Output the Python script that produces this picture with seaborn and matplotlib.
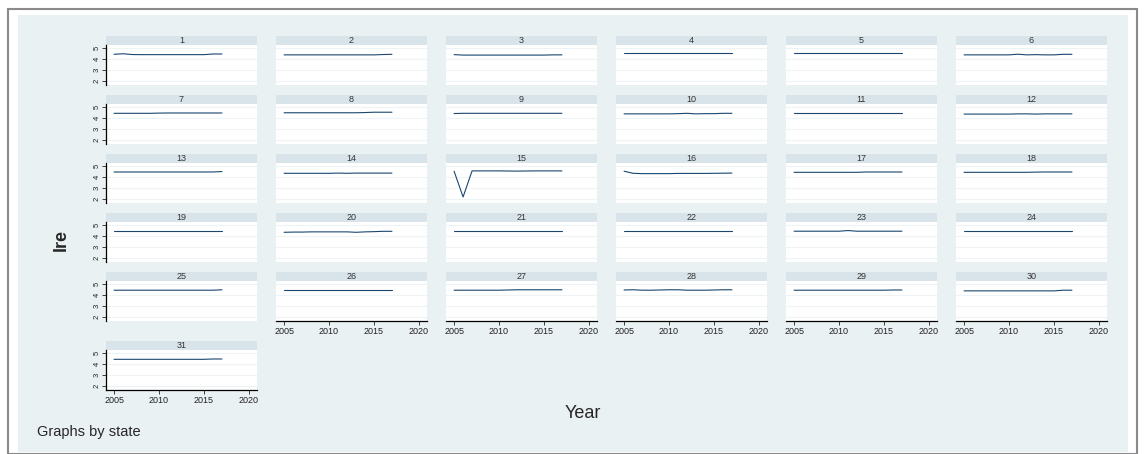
import numpy as np
import pandas as pd
import matplotlib
matplotlib.use("Agg")
import matplotlib.pyplot as plt
import seaborn as sns
from matplotlib.patches import Rectangle

# data (lre by state, 2005-2017)
years = list(range(2005, 2018))
states = list(range(1, 32))
lre = {
    1:  [4.45, 4.50, 4.43, 4.42, 4.42, 4.42, 4.42, 4.42, 4.42, 4.42, 4.42, 4.48, 4.48],
    2:  [4.40, 4.40, 4.40, 4.40, 4.40, 4.40, 4.40, 4.40, 4.40, 4.40, 4.40, 4.43, 4.45],
    3:  [4.42, 4.38, 4.38, 4.38, 4.38, 4.38, 4.38, 4.38, 4.38, 4.38, 4.38, 4.40, 4.40],
    4:  [4.55, 4.55, 4.55, 4.55, 4.55, 4.55, 4.55, 4.55, 4.55, 4.55, 4.55, 4.55, 4.55],
    5:  [4.55, 4.55, 4.55, 4.55, 4.55, 4.55, 4.55, 4.55, 4.55, 4.55, 4.55, 4.55, 4.55],
    6:  [4.40, 4.40, 4.40, 4.40, 4.40, 4.40, 4.46, 4.40, 4.42, 4.40, 4.40, 4.45, 4.45],
    7:  [4.45, 4.45, 4.45, 4.45, 4.45, 4.47, 4.48, 4.48, 4.48, 4.48, 4.48, 4.48, 4.48],
    8:  [4.50, 4.50, 4.50, 4.50, 4.50, 4.50, 4.50, 4.50, 4.50, 4.52, 4.55, 4.55, 4.55],
    9:  [4.43, 4.45, 4.45, 4.45, 4.45, 4.45, 4.45, 4.45, 4.45, 4.45, 4.45, 4.45, 4.45],
    10: [4.40, 4.40, 4.40, 4.40, 4.40, 4.40, 4.42, 4.45, 4.40, 4.42, 4.42, 4.45, 4.45],
    11: [4.52, 4.52, 4.52, 4.52, 4.52, 4.52, 4.52, 4.52, 4.52, 4.52, 4.52, 4.52, 4.52],
    12: [4.38, 4.38, 4.38, 4.38, 4.38, 4.38, 4.40, 4.40, 4.38, 4.40, 4.40, 4.40, 4.40],
    13: [4.48, 4.48, 4.48, 4.48, 4.48, 4.48, 4.48, 4.48, 4.48, 4.48, 4.48, 4.48, 4.52],
    14: [4.36, 4.36, 4.36, 4.36, 4.36, 4.36, 4.38, 4.36, 4.38, 4.38, 4.38, 4.38, 4.38],
    15: [4.55, 2.20, 4.58, 4.58, 4.58, 4.58, 4.57, 4.56, 4.57, 4.58, 4.58, 4.58, 4.58],
    16: [4.55, 4.36, 4.33, 4.33, 4.33, 4.33, 4.35, 4.35, 4.35, 4.35, 4.36, 4.37, 4.38],
    17: [4.45, 4.45, 4.45, 4.45, 4.45, 4.45, 4.45, 4.45, 4.48, 4.48, 4.48, 4.48, 4.48],
    18: [4.45, 4.45, 4.45, 4.45, 4.45, 4.45, 4.45, 4.45, 4.47, 4.48, 4.48, 4.48, 4.48],
    19: [4.50, 4.50, 4.50, 4.50, 4.50, 4.50, 4.50, 4.50, 4.50, 4.50, 4.50, 4.50, 4.50],
    20: [4.36, 4.38, 4.38, 4.40, 4.40, 4.40, 4.40, 4.40, 4.36, 4.40, 4.42, 4.45, 4.45],
    21: [4.48, 4.48, 4.48, 4.48, 4.48, 4.48, 4.48, 4.48, 4.48, 4.48, 4.48, 4.48, 4.48],
    22: [4.48, 4.48, 4.48, 4.48, 4.48, 4.48, 4.48, 4.48, 4.48, 4.48, 4.48, 4.48, 4.48],
    23: [4.46, 4.46, 4.46, 4.46, 4.46, 4.46, 4.52, 4.46, 4.46, 4.46, 4.46, 4.46, 4.46],
    24: [4.47, 4.47, 4.47, 4.47, 4.47, 4.47, 4.47, 4.47, 4.47, 4.47, 4.47, 4.47, 4.47],
    25: [4.46, 4.46, 4.46, 4.46, 4.46, 4.46, 4.46, 4.46, 4.46, 4.46, 4.46, 4.46, 4.50],
    26: [4.45, 4.45, 4.45, 4.45, 4.45, 4.45, 4.45, 4.45, 4.45, 4.45, 4.45, 4.45, 4.45],
    27: [4.46, 4.46, 4.46, 4.46, 4.46, 4.46, 4.48, 4.50, 4.50, 4.50, 4.50, 4.50, 4.50],
    28: [4.48, 4.50, 4.46, 4.46, 4.48, 4.50, 4.50, 4.46, 4.46, 4.46, 4.48, 4.50, 4.50],
    29: [4.46, 4.46, 4.46, 4.46, 4.46, 4.46, 4.46, 4.46, 4.46, 4.46, 4.46, 4.48, 4.48],
    30: [4.40, 4.40, 4.40, 4.40, 4.40, 4.40, 4.40, 4.40, 4.40, 4.40, 4.40, 4.46, 4.46],
    31: [4.45, 4.45, 4.45, 4.45, 4.45, 4.45, 4.45, 4.45, 4.45, 4.45, 4.45, 4.48, 4.48],
}
y_ticks = [2, 3, 4, 5]
x_ticks = [2005, 2010, 2015, 2020]

df = pd.DataFrame([(s, y, v) for s in states for y, v in zip(years, lre[s])],
                  columns=["state", "year", "lre"])

sns.set_style("white")
plt.rcParams['font.family'] = ['Liberation Sans', 'DejaVu Sans']

W, H = 1145, 454
fig = plt.figure(figsize=(W / 100, H / 100), dpi=100)
fig.patch.set_facecolor("white")

bg = "#EAF1F3"
strip_c = "#D8E4EA"
line_c = "#1A476F"

# outer frame and graph region (kept behind the panels)
fig.add_artist(Rectangle((8 / W, 0), 1129 / W, 1 - 9 / H, transform=fig.transFigure,
                         facecolor="white", edgecolor="#8A8A8A", lw=1.5, zorder=-20))
fig.add_artist(Rectangle((18 / W, 2 / H), 1110 / W, 1 - 17 / H, transform=fig.transFigure,
                         facecolor=bg, edgecolor="none", zorder=-10))

def box(x, y, w, h):
    return [x / W, 1 - (y + h) / H, w / W, h / H]

col_left = [106 + 170 * i for i in range(6)]
row_top = [36, 95, 154, 213, 272, 341]
pw, sh, ph = 151, 9, 40

for s in states:
    r, c = divmod(s - 1, 6)
    x0, y0 = col_left[c], row_top[r]
    # strip
    sax = fig.add_axes(box(x0, y0, pw, sh))
    sax.set_facecolor(strip_c)
    sax.set_xticks([]); sax.set_yticks([])
    for sp in sax.spines.values():
        sp.set_visible(False)
    sax.text(0.5, 0.5, str(s), ha="center", va="center", fontsize=6.5, color="#333333")

    ax = fig.add_axes(box(x0, y0 + sh, pw, ph))
    ax.set_facecolor("white")
    sns.lineplot(data=df[df.state == s], x="year", y="lre", ax=ax,
                 color=line_c, linewidth=0.8)
    ax.set_xlim(2004.1, 2020.9)
    ax.set_ylim(1.65, 5.3)
    ax.set_yticks(y_ticks)
    ax.set_xticks(x_ticks)
    for yt in y_ticks:
        ax.axhline(yt, color="#EEF3F5", lw=0.8, zorder=0)
    ax.set_xlabel(""); ax.set_ylabel("")
    for sp in ax.spines.values():
        sp.set_visible(False)

    bottom = (r == 5) or (r == 4 and c >= 1)
    if c == 0:
        ax.spines["left"].set_visible(True)
        ax.spines["left"].set_color("black")
        ax.spines["left"].set_linewidth(0.9)
        ax.tick_params(axis="y", length=3, width=0.6, pad=1, labelsize=5.5,
                       left=True, labelrotation=90, colors="#222222")
    else:
        ax.tick_params(axis="y", left=False, labelleft=False)
    if bottom:
        ax.spines["bottom"].set_visible(True)
        ax.spines["bottom"].set_color("black")
        ax.spines["bottom"].set_linewidth(0.9)
        ax.tick_params(axis="x", length=3, width=0.6, pad=1.5, labelsize=6.5,
                       bottom=True, colors="#222222")
    else:
        ax.tick_params(axis="x", bottom=False, labelbottom=False)

fig.text(61 / W, 1 - 240 / H, "lre", rotation=90, ha="center", va="center",
         fontsize=13, fontweight="bold")
fig.text(583 / W, 1 - 413 / H, "Year", ha="center", va="center", fontsize=13)
fig.text(37 / W, 1 - 432 / H, "Graphs by state", ha="left", va="center", fontsize=10.5)

fig.savefig("out.png", dpi=100)
